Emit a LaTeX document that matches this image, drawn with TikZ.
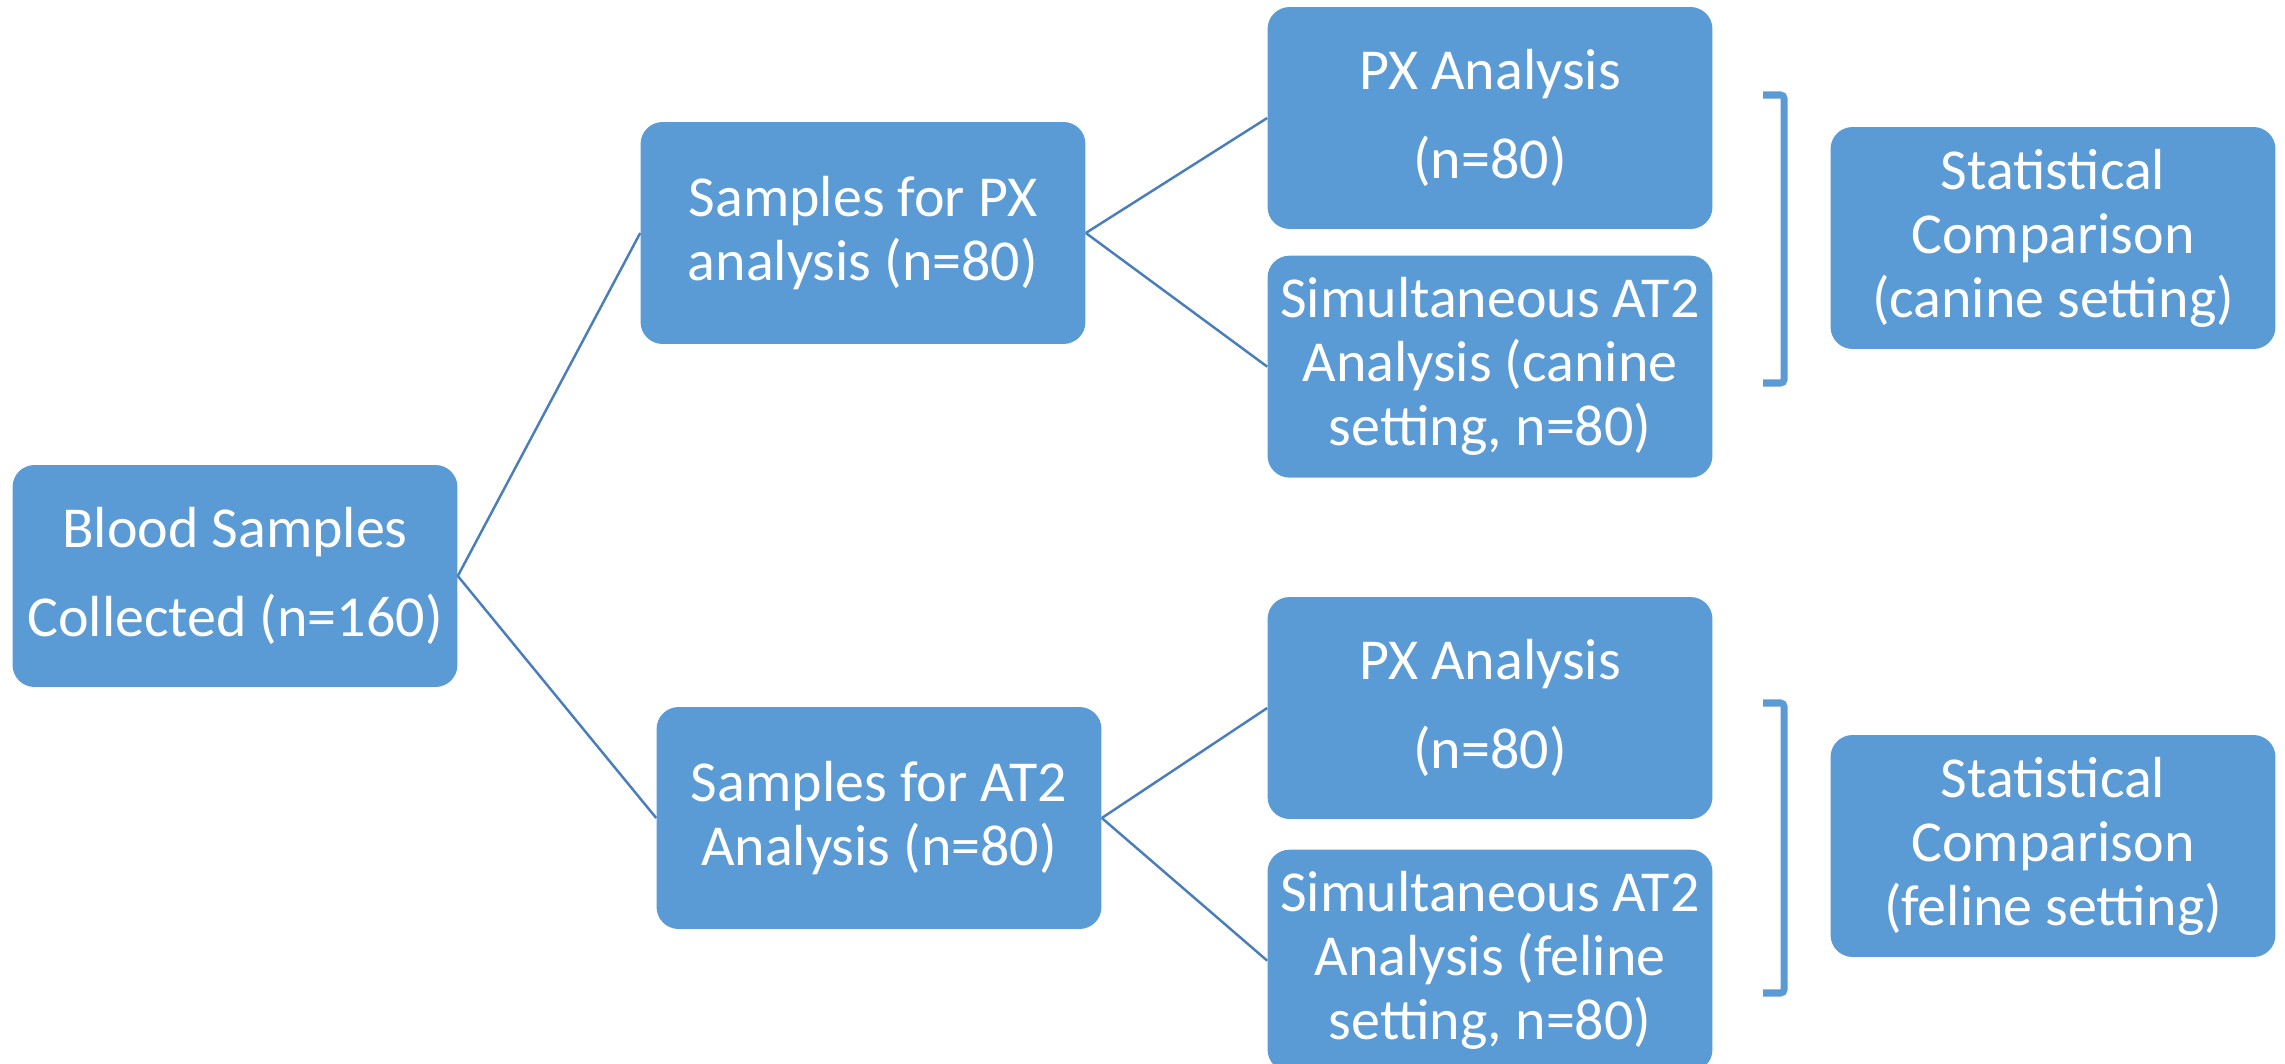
\documentclass[tikz,border=0pt]{standalone}
\usepackage{fontspec}
\setmainfont{Carlito}
\usepackage{xcolor}
\usepackage{tikz}
\usetikzlibrary{positioning}

\definecolor{boxblue}{HTML}{5B9BD5}
\definecolor{lineblue}{HTML}{4A7EBB}

\begin{document}
\begin{tikzpicture}[
    x=0.02cm, y=-0.02cm,
    node distance = 0.55cm and 2.4cm,
    block/.style = {rectangle, fill=boxblue, text=white, align=center, rounded corners=0.44cm, minimum width=8.9cm, minimum height=4.44cm, inner sep=0pt, font=\fontsize{33}{36.4}\selectfont},
    spaced/.style = {font=\fontsize{33}{51}\selectfont},
    link/.style = {draw=lineblue, line width=1.4pt},
    bracket/.style = {draw=boxblue, line width=4pt, rounded corners=2pt}
]
    \useasboundingbox (0,0) rectangle (2285,1064);

    % Nodes
    \node (blood) [block, spaced] at (235,576) {Blood Samples\\Collected (n=160)};
    \node (pxsamp) [block] at (863,233) {Samples for PX\\analysis (n=80)};
    \node (atsamp) [block] at (879,818) {Samples for AT2\\Analysis (n=80)};
    \node (pxcan) [block, spaced] at (1490,118) {PX Analysis\\(n=80)};
    \node (atcan) [block, below=0.52cm of pxcan] {Simultaneous AT2\\Analysis (canine\\setting, n=80)};
    \node (pxfel) [block, spaced] at (1490,708) {PX Analysis\\(n=80)};
    \node (atfel) [block, below=0.6cm of pxfel] {Simultaneous AT2\\Analysis (feline\\setting, n=80)};
    \node (statcan) [block] at (2053,238) {Statistical\\Comparison\\(canine setting)};
    \node (statfel) [block] at (2053,846) {Statistical\\Comparison\\(feline setting)};

    % Links
    \draw [link] (blood.east) -- (pxsamp.west);
    \draw [link] (blood.east) -- (atsamp.west);
    \draw [link] (pxsamp.east) -- (pxcan.west);
    \draw [link] (pxsamp.east) -- (atcan.west);
    \draw [link] (atsamp.east) -- (pxfel.west);
    \draw [link] (atsamp.east) -- (atfel.west);

    % Brackets
    \draw [bracket] (1763,95) -- (1784,95) -- (1784,383) -- (1763,383);
    \draw [bracket] (1763,703) -- (1784,703) -- (1784,993) -- (1763,993);

\end{tikzpicture}
\end{document}
